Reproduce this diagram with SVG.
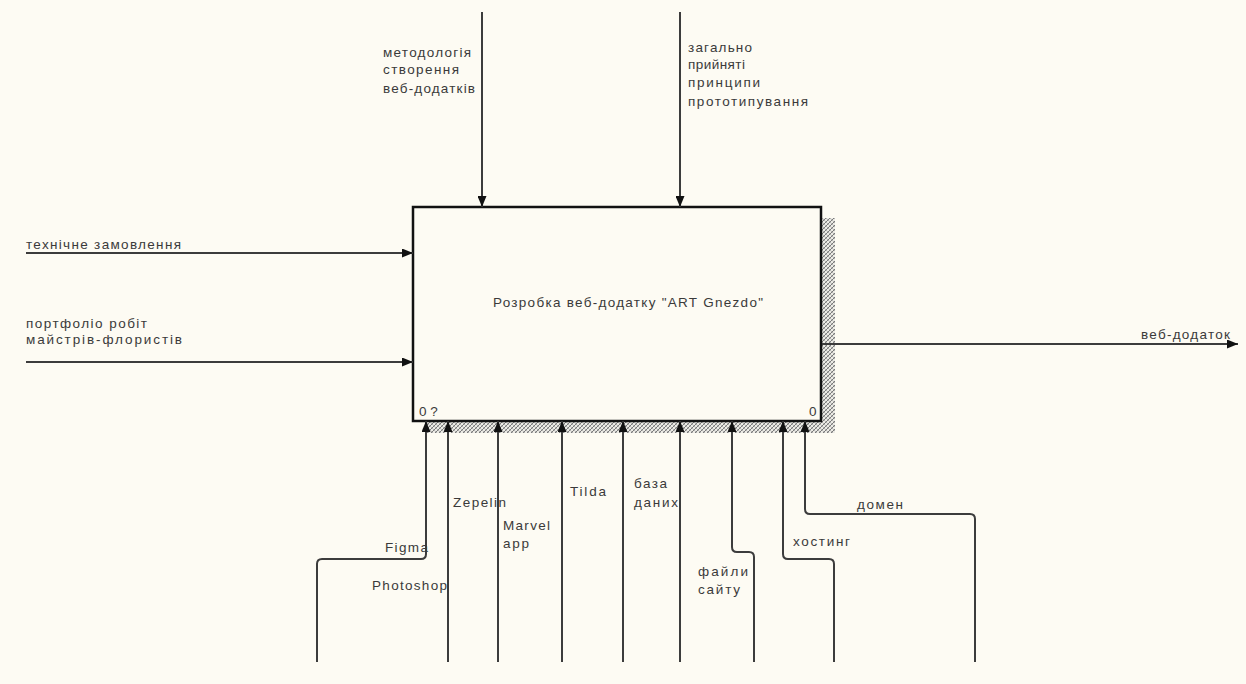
<svg xmlns="http://www.w3.org/2000/svg" width="1246" height="684" viewBox="0 0 1246 684">
<defs>
<pattern id="hatch" width="4" height="4" patternUnits="userSpaceOnUse">
<rect width="4" height="4" fill="#ecebe5"/>
<path d="M0,4 L4,0 M-1,1 L1,-1 M3,5 L5,3" stroke="#7a7a7a" stroke-width="1"/>
<path d="M0,0 L4,4" stroke="#a8a8a8" stroke-width="0.8"/>
</pattern>
<marker id="ah" viewBox="0 0 11 9" refX="11" refY="4.5" markerWidth="11" markerHeight="9" markerUnits="userSpaceOnUse" orient="auto">
<path d="M0,0 L11,4.5 L0,9 Z" fill="#111"/>
</marker>
<style>
.t{font-family:"Liberation Sans",Arial,sans-serif;font-size:13.5px;fill:#3a3a3a}
.c{fill:none;stroke:#3c3c3c;stroke-width:2}
.a{marker-end:url(#ah)}
</style>
</defs>
<rect width="1246" height="684" fill="#fdfbf3"/>

<g id="node-A0">
<rect x="822" y="218" width="13" height="215" fill="url(#hatch)"/>
<rect x="425" y="422" width="410" height="11" fill="url(#hatch)"/>
<rect x="413" y="207" width="408" height="214" fill="#fdfbf3" stroke="#111" stroke-width="2.5"/>
<text class="t" x="493" y="307" textLength="270" lengthAdjust="spacing">Розробка веб-додатку "ART Gnezdo"</text>
<text class="t" x="419" y="416">0 ?</text>
<text class="t" x="809" y="416">0</text>
</g>

<g id="connectors">
<path class="c a" d="M482,12 V207"/>
<path class="c a" d="M680,12 V207"/>
<path class="c a" d="M26,253 H413"/>
<path class="c a" d="M26,362 H413"/>
<path class="c a" d="M822,344 H1238"/>
<path class="c a" d="M317,662 V564 Q317,559 322,559 H421 Q426,559 426,554 V421"/>
<path class="c a" d="M448,662 V421"/>
<path class="c a" d="M498,662 V421"/>
<path class="c a" d="M562,662 V421"/>
<path class="c a" d="M623,662 V421"/>
<path class="c a" d="M680,662 V421"/>
<path class="c a" d="M754,662 V557 Q754,552 749,552 H737 Q732,552 732,547 V421"/>
<path class="c a" d="M834,662 V564 Q834,559 829,559 H788 Q783,559 783,554 V421"/>
<path class="c a" d="M975,662 V519 Q975,514 970,514 H810 Q805,514 805,509 V421"/>
</g>

<g id="labels">
<text class="t" x="383" y="57" textLength="88" lengthAdjust="spacing">методологія</text>
<text class="t" x="383" y="74" textLength="76" lengthAdjust="spacing">створення</text>
<text class="t" x="383" y="93" textLength="92" lengthAdjust="spacing">веб-додатків</text>
<text class="t" x="688" y="52" textLength="64" lengthAdjust="spacing">загально</text>
<text class="t" x="688" y="69" textLength="57" lengthAdjust="spacing">прийняті</text>
<text class="t" x="688" y="87" textLength="72" lengthAdjust="spacing">принципи</text>
<text class="t" x="688" y="106" textLength="120" lengthAdjust="spacing">прототипування</text>
<text class="t" x="26" y="249" textLength="155" lengthAdjust="spacing">технічне замовлення</text>
<text class="t" x="26" y="328" textLength="121" lengthAdjust="spacing">портфоліо робіт</text>
<text class="t" x="26" y="344" textLength="156" lengthAdjust="spacing">майстрів-флористів</text>
<text class="t" x="1141" y="339" textLength="89" lengthAdjust="spacing">веб-додаток</text>
<text class="t" x="385" y="552" textLength="43" lengthAdjust="spacing">Figma</text>
<text class="t" x="372" y="590" textLength="75" lengthAdjust="spacing">Photoshop</text>
<text class="t" x="453" y="507" textLength="53" lengthAdjust="spacing">Zepelin</text>
<text class="t" x="503" y="530" textLength="47" lengthAdjust="spacing">Marvel</text>
<text class="t" x="503" y="548" textLength="26" lengthAdjust="spacing">app</text>
<text class="t" x="570" y="496" textLength="36" lengthAdjust="spacing">Tilda</text>
<text class="t" x="634" y="488" textLength="33" lengthAdjust="spacing">база</text>
<text class="t" x="634" y="507" textLength="44" lengthAdjust="spacing">даних</text>
<text class="t" x="698" y="576" textLength="50" lengthAdjust="spacing">файли</text>
<text class="t" x="698" y="594" textLength="42" lengthAdjust="spacing">сайту</text>
<text class="t" x="793" y="546" textLength="57" lengthAdjust="spacing">хостинг</text>
<text class="t" x="857" y="509" textLength="46" lengthAdjust="spacing">домен</text>
</g>
</svg>
